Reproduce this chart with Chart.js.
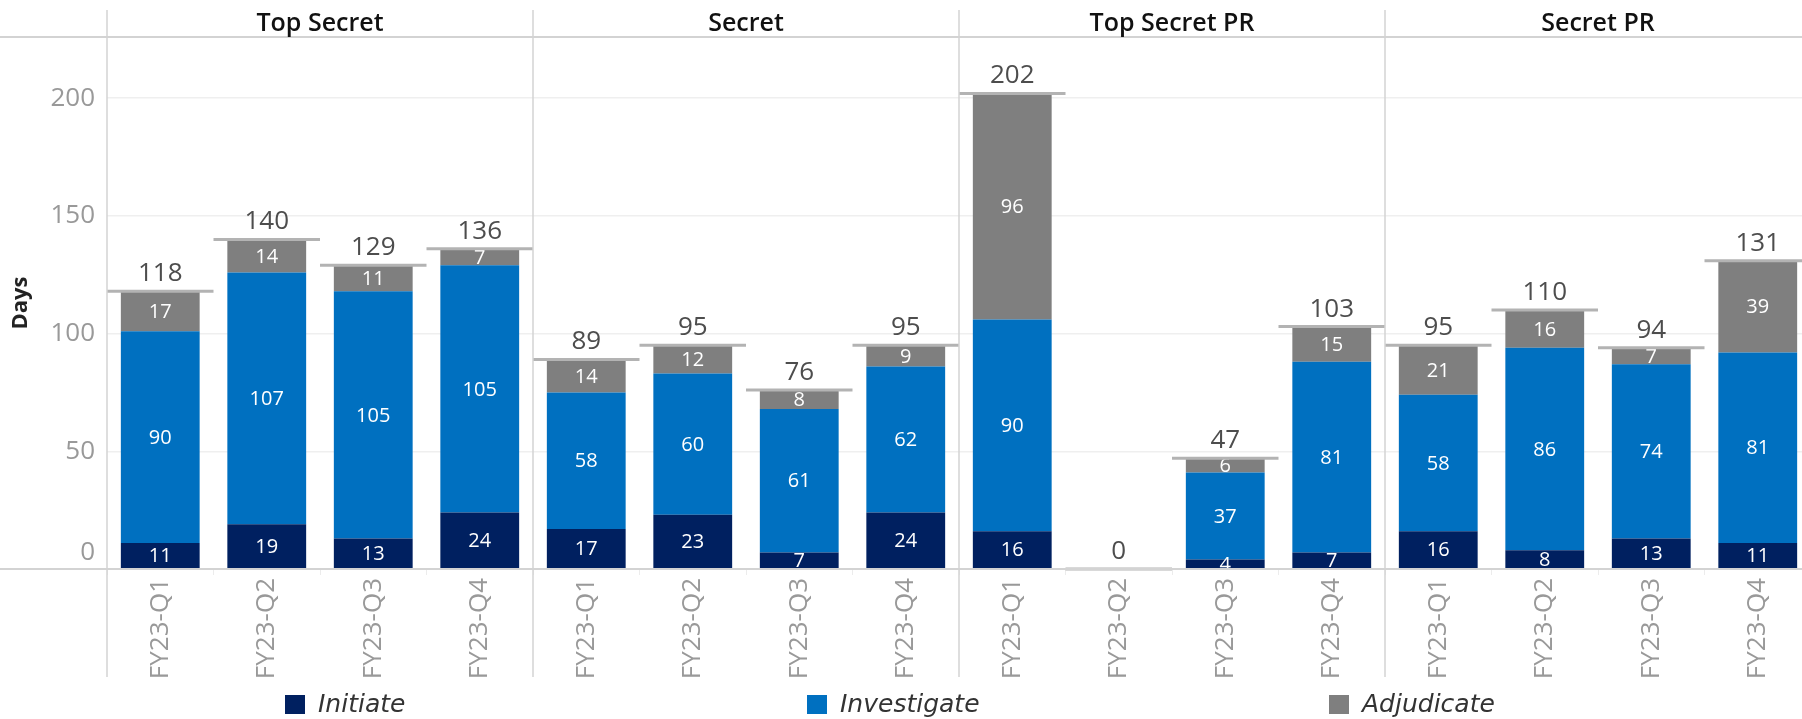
<!DOCTYPE html>
<html>
<head>
<meta charset="utf-8">
<script src="https://cdn.jsdelivr.net/npm/chart.js@4.4.0/dist/chart.umd.min.js"></script>
<style>
  html, body { margin: 0; padding: 0; background: #fff; overflow: hidden; }
  #wrap { width: 1811px; height: 719px; }
</style>
</head>
<body>
<div id="wrap"><canvas id="daysChart"></canvas></div>
<script>
// Data
const groups = ['Top Secret', 'Secret', 'Top Secret PR', 'Secret PR'];
const quarters = ['FY23-Q1', 'FY23-Q2', 'FY23-Q3', 'FY23-Q4'];
const labels = groups.flatMap(() => quarters);

const initiate = [11, 19, 13, 24, 17, 23, 7, 24, 16, 0, 4, 7, 16, 8, 13, 11];
const investigate = [90, 107, 105, 105, 58, 60, 61, 62, 90, 0, 37, 81, 58, 86, 74, 81];
const adjudicate = [17, 14, 11, 7, 14, 12, 8, 9, 96, 0, 6, 15, 21, 16, 7, 39];
const totals = [118, 140, 129, 136, 89, 95, 76, 95, 202, 0, 47, 103, 95, 110, 94, 131];

const yTicks = [0, 50, 100, 150, 200];

// Colors
const colorInitiate = '#002060';
const colorInvestigate = '#0070c0';
const colorAdjudicate = '#7f7f7f';
const colorLine = '#d3d3d3';
const fontFamily = "'Open Sans', 'Noto Sans', sans-serif";

// Panel lines, headers, zero line, totals, segment labels, legend
const decorPlugin = {
  id: 'decor',
  beforeDraw(chart) {
    // nudge the "0" tick label up like the original
    const items = chart.scales.y.getLabelItems();
    if (items.length && !items[0]._moved) {
      items[0].options.translation[1] -= 16;
      items[0]._moved = true;
    }
  },
  afterDatasetsDraw(chart) {
    const { ctx, scales: { x, y } } = chart;
    const band = x.width / labels.length;
    ctx.save();

    // segment labels
    ctx.font = `20px ${fontFamily}`;
    ctx.fillStyle = '#ffffff';
    ctx.textAlign = 'center';
    ctx.textBaseline = 'middle';
    chart.data.datasets.forEach((ds, di) => {
      chart.getDatasetMeta(di).data.forEach((bar, i) => {
        if (!ds.data[i]) return;
        ctx.fillText(ds.data[i], bar.x, (bar.y + bar.base) / 2 + 1);
      });
    });

    // total reference lines + labels
    totals.forEach((t, i) => {
      const cx = x.getPixelForValue(i);
      const py = y.getPixelForValue(t);
      ctx.strokeStyle = '#b3b3b3';
      ctx.lineWidth = 3;
      ctx.beginPath();
      ctx.moveTo(cx - band / 2, py);
      ctx.lineTo(cx + band / 2, py);
      ctx.stroke();
      ctx.font = `26px ${fontFamily}`;
      ctx.fillStyle = '#4d4d4d';
      ctx.textBaseline = 'alphabetic';
      ctx.fillText(t, cx, py - 10);
    });
    ctx.restore();
  },
  afterDraw(chart) {
    const { ctx, chartArea, scales: { x, y } } = chart;
    const band = x.width / labels.length;
    ctx.save();
    ctx.strokeStyle = colorLine;

    // header line and zero line across full width
    ctx.lineWidth = 2;
    const y0 = y.getPixelForValue(0);
    ctx.beginPath();
    ctx.moveTo(0, chartArea.top);
    ctx.lineTo(chart.width, chartArea.top);
    ctx.moveTo(0, y0);
    ctx.lineTo(chart.width, y0);
    ctx.stroke();

    // panel separators
    ctx.lineWidth = 1.5;
    groups.forEach((g, gi) => {
      const left = x.getPixelForValue(gi * quarters.length) - band / 2;
      ctx.beginPath();
      ctx.moveTo(left, 10);
      ctx.lineTo(left, 677);
      ctx.stroke();
    });

    // panel titles
    ctx.font = `600 25px ${fontFamily}`;
    ctx.fillStyle = '#111111';
    ctx.textAlign = 'center';
    ctx.textBaseline = 'middle';
    groups.forEach((g, gi) => {
      const first = x.getPixelForValue(gi * quarters.length);
      const last = x.getPixelForValue(gi * quarters.length + quarters.length - 1);
      ctx.fillText(g, (first + last) / 2, 24);
    });

    // legend
    const legendX = [285, 807, 1329];
    ctx.font = `italic 25px 'DejaVu Sans', ${fontFamily}`;
    ctx.textAlign = 'left';
    chart.data.datasets.forEach((ds, di) => {
      const lx = legendX[di];
      ctx.fillStyle = ds.backgroundColor;
      ctx.fillRect(lx, 695, 20, 19);
      ctx.fillStyle = '#333333';
      ctx.fillText(ds.label, lx + 33, 705);
    });
    ctx.restore();
  },
};

const barOptions = {
  type: 'bar',
  data: {
    labels,
    datasets: [
      { label: 'Initiate', data: initiate, backgroundColor: colorInitiate },
      { label: 'Investigate', data: investigate, backgroundColor: colorInvestigate },
      { label: 'Adjudicate', data: adjudicate, backgroundColor: colorAdjudicate },
    ],
  },
  options: {
    responsive: true,
    maintainAspectRatio: false,
    animation: false,
    datasets: {
      bar: { categoryPercentage: 1, barPercentage: 0.74, borderWidth: 0 },
    },
    layout: { padding: { top: 37, left: 0, right: 0, bottom: 0 } },
    plugins: {
      legend: { display: false },
      tooltip: { enabled: false },
    },
    scales: {
      x: {
        stacked: true,
        afterFit: scale => { scale.height = 150; },
        grid: {
          display: true,
          offset: true,
          drawOnChartArea: false,
          drawTicks: true,
          tickLength: 6,
          color: '#ececec',
        },
        border: { display: false },
        ticks: {
          autoSkip: false,
          minRotation: 90,
          maxRotation: 90,
          padding: 3,
          color: '#999999',
          font: { family: fontFamily, size: 26 },
        },
      },
      y: {
        stacked: true,
        min: 0,
        max: 226,
        afterFit: scale => { scale.width = 107; },
        afterBuildTicks: scale => {
          scale.ticks = yTicks.map(value => ({ value }));
        },
        grid: {
          color: '#efefef',
          lineWidth: 1.5,
          drawTicks: false,
        },
        border: { display: false },
        ticks: {
          padding: 12,
          color: '#999999',
          font: { family: fontFamily, size: 26 },
        },
        title: {
          display: true,
          text: 'Days',
          color: '#222222',
          padding: { top: 8, bottom: 0 },
          font: { family: fontFamily, size: 22, weight: 'bold' },
        },
      },
    },
  },
  plugins: [decorPlugin],
};

const ctx = document.getElementById('daysChart').getContext('2d');
const daysChart = new Chart(ctx, barOptions);
</script>
</body>
</html>
